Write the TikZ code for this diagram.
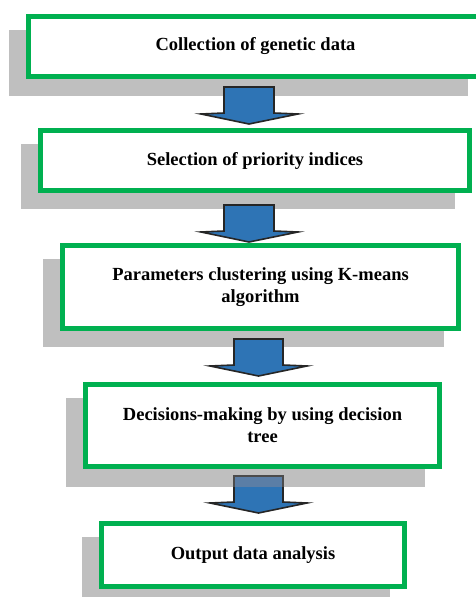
\documentclass[tikz,border=0pt]{standalone}
\usepackage{fontspec}
\setmainfont{Liberation Serif}
\definecolor{boxgreen}{HTML}{00B050}
\definecolor{arrowblue}{HTML}{2E74B5}
\definecolor{shadowgray}{HTML}{BFBFBF}
\definecolor{overlapblue}{HTML}{5B7EA6}
\begin{document}
\begin{tikzpicture}[x=1pt,y=-1pt,
  stepbox/.style={draw=boxgreen, line width=5pt, fill=white, align=center,
    font=\fontsize{18.5}{22}\selectfont\bfseries, inner sep=0pt},
  shadowbox/.style={fill=shadowgray, draw=none},
  blockarrow/.style={fill=arrowblue, draw=black!85, line width=1.6pt, line join=miter}]
\useasboundingbox (0,0) rectangle (476,597);
\clip (0,0) rectangle (476,597);
% shadows
\fill[shadowbox] (9,30) rectangle (468,96);
\fill[shadowbox] (21,144) rectangle (455,209);
\fill[shadowbox] (43,259) rectangle (444,347);
\fill[shadowbox] (66,398) rectangle (425,487);
\fill[shadowbox] (82,537) rectangle (390,610);
% boxes
\node[stepbox, minimum width=454pt, minimum height=60pt] (b1) at (255.5,46.5) {Collection of genetic data};
\node[stepbox, minimum width=429pt, minimum height=60pt] (b2) at (255,160.5) {Selection of priority indices};
\node[stepbox, minimum width=396pt, minimum height=83pt] (b3) at (260.5,287) {Parameters clustering using K-means\\algorithm};
\node[stepbox, minimum width=354pt, minimum height=82pt] (b4) at (262.5,425.5) {Decisions-making by using decision\\tree};
\node[stepbox, minimum width=303pt, minimum height=63pt] (b5) at (253,555) {Output data analysis};
% block arrows
\draw[blockarrow] (224,87) -- (274,87) -- (274,113) -- (298,114) -- (249,124) -- (201,114) -- (224,113) -- cycle;
\draw[blockarrow] (224,205) -- (274,205) -- (274,231) -- (298,232) -- (249,242) -- (201,232) -- (224,231) -- cycle;
\draw[blockarrow] (234,339) -- (283,339) -- (283,365) -- (307,366) -- (258.5,376) -- (210,366) -- (234,365) -- cycle;
\draw[blockarrow] (234,476) -- (283,476) -- (283,502) -- (307,503) -- (258.5,513) -- (210,503) -- (234,502) -- cycle;
\fill[overlapblue] (234.8,476.8) rectangle (282.2,487);
\draw[draw=black!70, line width=1.6pt] (234,487) -- (234,476) -- (283,476) -- (283,487);
\end{tikzpicture}
\end{document}
